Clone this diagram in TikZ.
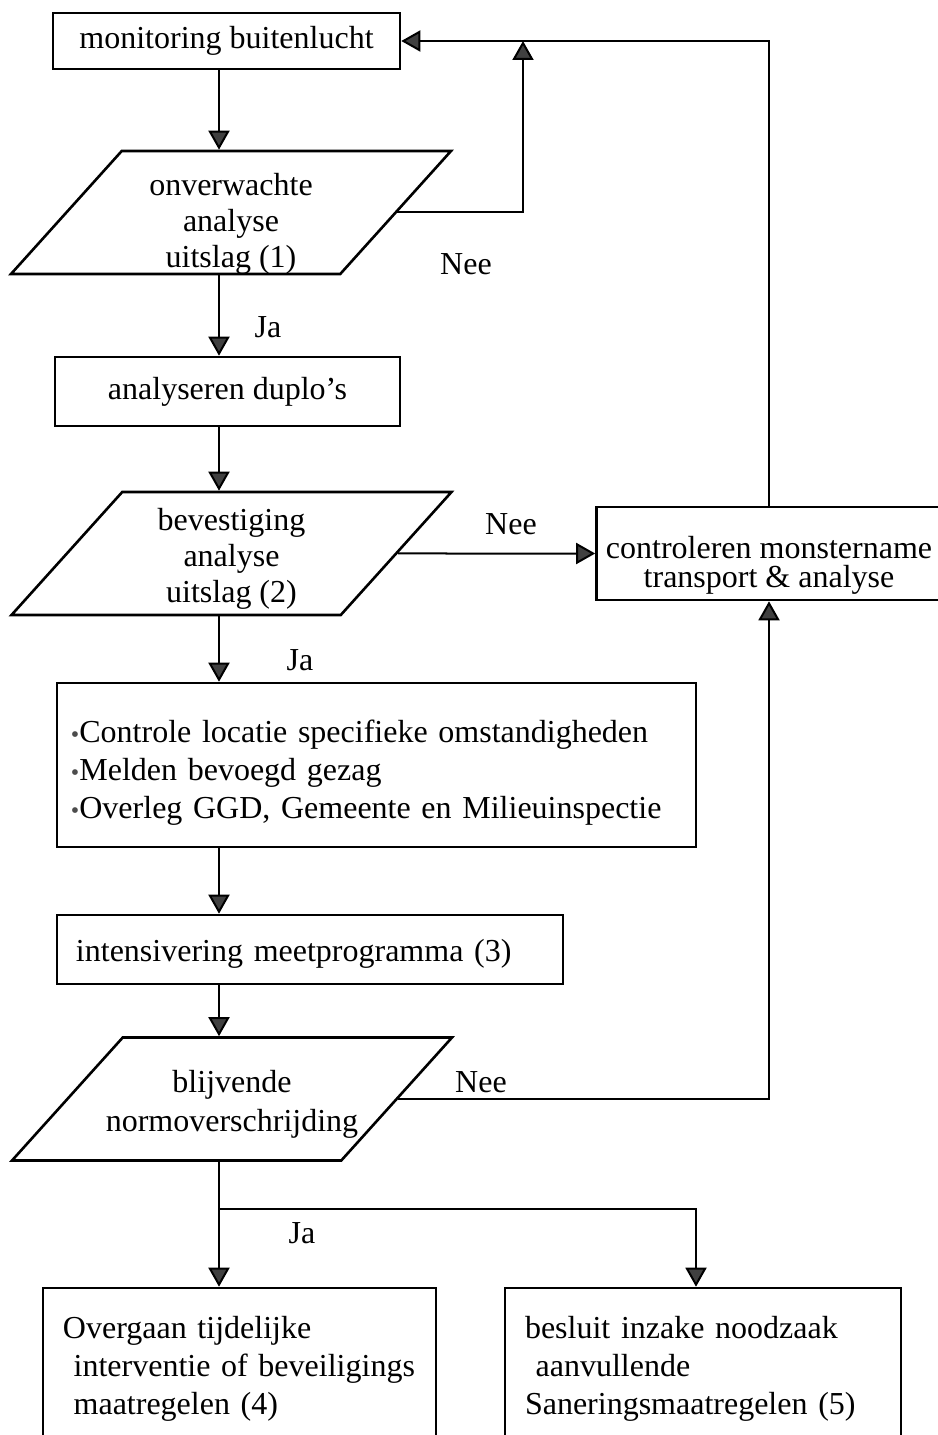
\documentclass[tikz,border=0pt]{standalone}
\usepackage{fontspec}
\setmainfont{Liberation Serif}
\usetikzlibrary{arrows.meta,calc,shapes.geometric}
\tikzset{
    flow chart/.style = {x=0.5bp, y=-0.5bp,
                         >={Triangle[length=9.5bp, width=10.5bp, fill=black!75]}},
    txt/.style        = {font=\fontsize{16bp}{19bp}\selectfont},
    line/.style       = {line width=1bp},
    block/.style      = {draw, line width=1.3bp, txt, inner sep=0pt,
                         align=center},
    listblock/.style  = {block, align=left, inner ysep=0pt},
    decision/.style   = {draw, line width=1.3bp, inner sep=0pt, trapezium,
                         trapezium left angle=48, trapezium right angle=132,
                         trapezium stretches body, text height=61.5bp,
                         text depth=0pt, minimum width=220bp},
    dtext/.style      = {txt, align=center, inner sep=0pt},
    answer/.style     = {txt, inner sep=0pt}
}
\newcommand{\bul}{{\fontsize{12bp}{12bp}\selectfont\textcolor{black!70}{\textbullet}}}
\newcommand{\drop}[1]{\rule{0pt}{#1}}

\begin{document}
\begin{tikzpicture}[flow chart]
\useasboundingbox (0,0) rectangle (937,1435);
\coordinate (col) at (219,0);
\coordinate (loop) at (523,0);
\coordinate (branch) at (696,0);

% ================= Monitoring and first check =================
\node[block, minimum width=173.5bp, minimum height=28bp] (monitor) at (226.5,41)
    {monitoring buitenlucht};
\node[decision] (unexpected) at (231,212.5) {};
\node[dtext, font=\fontsize{16bp}{18bp}\selectfont, yshift=-5.5bp]
    (unexpectedtxt) at (unexpected) {onverwachte\\analyse\\uitslag (1)};
\node[block, minimum width=172.5bp, minimum height=34.5bp] (duplo) at (227.5,391.5)
    {analyseren duplo’s};
\node[decision] (confirm) at (231.5,553.5) {};
\node[dtext, font=\fontsize{16bp}{18bp}\selectfont, yshift=-2.5bp]
    (confirmtxt) at (confirm) {bevestiging\\analyse\\uitslag (2)};

% ================= Sampling check =================
\node[block, minimum width=172.5bp, minimum height=46.5bp,
      font=\fontsize{16bp}{14.5bp}\selectfont] (ctrl) at (769,553.5)
    {\drop{23bp}controleren monstername\\transport \& analyse};

% ================= Follow-up actions =================
\node[listblock, text width=305.5bp, inner xsep=7bp, minimum height=82bp]
    (actions) at (376.5,765)
    {\drop{19bp}\bul Controle locatie specifieke omstandigheden\\
     \bul Melden bevoegd gezag\\
     \bul Overleg GGD, Gemeente en Milieuinspectie};
\node[listblock, text width=234bp, inner xsep=9.5bp, minimum height=34.5bp]
    (intens) at (310,949.5) {\drop{15bp}intensivering meetprogramma (3)};
\node[decision] (persist) at (232,1099) {};
\node[dtext, font=\fontsize{16bp}{19.5bp}\selectfont, yshift=-2.5bp]
    (persisttxt) at (persist) {blijvende\\normoverschrijding};

% ================= Measures =================
\node[listblock, text width=176.5bp, inner xsep=10bp, minimum height=79bp]
    (interim) at (239.5,1367)
    {\drop{13bp}Overgaan tijdelijke\\
     \ interventie of beveiligings\\
     \ maatregelen (4)};
\node[listblock, text width=178bp, inner xsep=10bp, minimum height=79bp]
    (remediate) at (703,1367)
    {\drop{13bp}besluit inzake noodzaak\\
     \ aanvullende\\
     Saneringsmaatregelen (5)};

% ================= Answers =================
\node[answer] (neeA) at (466,264) {Nee};
\node[answer] (jaA) at (268,327) {Ja};
\node[answer] (neeB) at (511,524) {Nee};
\node[answer] (jaB) at (300,660) {Ja};
\node[answer] (neeC) at (481,1082) {Nee};
\node[answer] (jaC) at (302,1233) {Ja};

% ================= Connectors =================
\draw[line, ->] (monitor.south -| col) -- (unexpected.north -| col);
\draw[line, ->] (unexpected.east) -| (monitor.east -| loop);
\draw[line, ->] (unexpected.south -| col) -- (duplo.north -| col);
\draw[line, ->] (duplo.south -| col) -- (confirm.north -| col);
\draw[line, ->] (confirm.east) -- (ctrl.west);
\draw[line, ->] (ctrl.north) |- (monitor.east);
\draw[line, ->] (confirm.south -| col) -- (actions.north -| col);
\draw[line, ->] (actions.south -| col) -- (intens.north -| col);
\draw[line, ->] (intens.south -| col) -- (persist.north -| col);
\draw[line, ->] (persist.east) -| (ctrl.south);
\draw[line, ->] (persist.south -| col) -- (interim.north -| col);
\coordinate (split) at (219,1209);
\draw[line, ->] (split) -| (remediate.north -| branch);

\end{tikzpicture}
\end{document}
